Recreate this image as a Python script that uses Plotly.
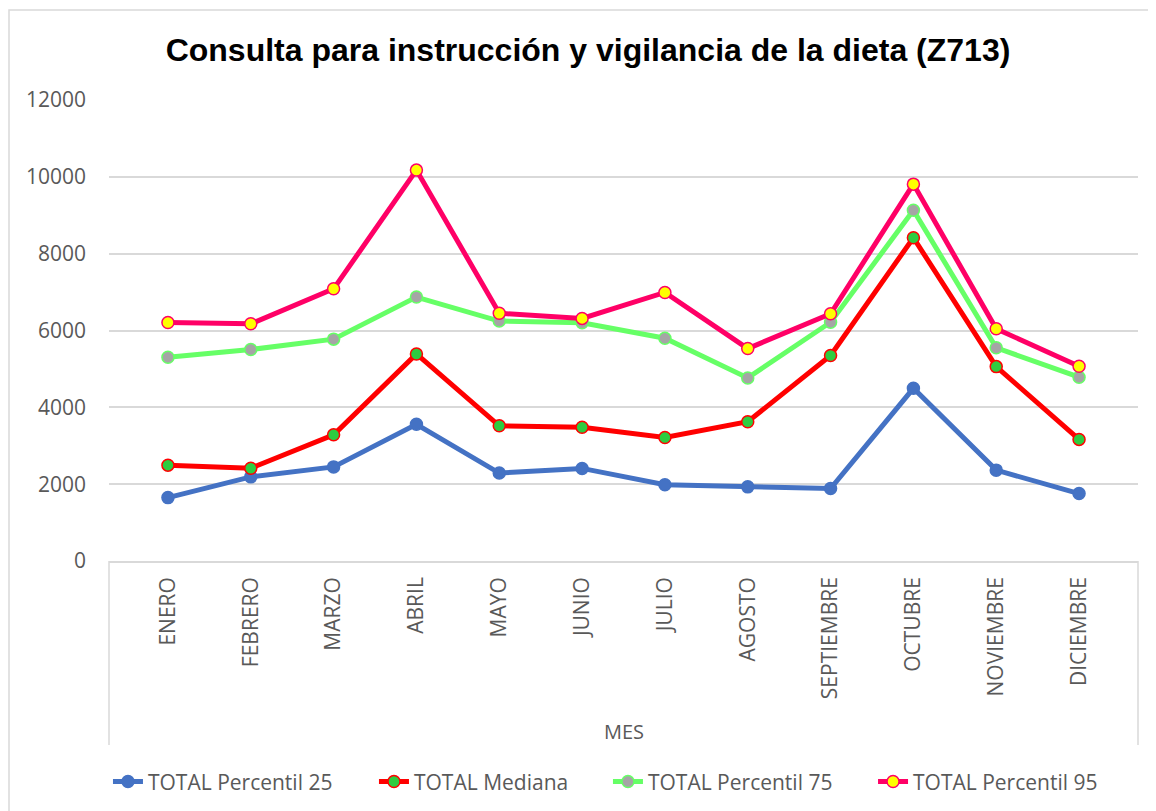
import plotly.graph_objects as go

# datos por mes
meses = ["ENERO", "FEBRERO", "MARZO", "ABRIL", "MAYO", "JUNIO", "JULIO",
         "AGOSTO", "SEPTIEMBRE", "OCTUBRE", "NOVIEMBRE", "DICIEMBRE"]
percentil_25 = [1650, 2190, 2450, 3560, 2290, 2410, 1985, 1930, 1885, 4495, 2365, 1755]
mediana = [2495, 2415, 3285, 5390, 3520, 3480, 3215, 3625, 5350, 8415, 5060, 3165]
percentil_75 = [5305, 5505, 5775, 6870, 6245, 6200, 5800, 4765, 6215, 9130, 5550, 4785]
percentil_95 = [6210, 6175, 7085, 10175, 6450, 6315, 6990, 5530, 6435, 9810, 6045, 5070]

series = [
    ("TOTAL Percentil 25", percentil_25, "#4472C4", "#4472C4", "#4472C4"),
    ("TOTAL Mediana", mediana, "#FF0000", "#2ECC40", "#FF0000"),
    ("TOTAL Percentil 75", percentil_75, "#66FF66", "#A5A5A5", "#66FF66"),
    ("TOTAL Percentil 95", percentil_95, "#FF0066", "#FFFF00", "#FF0066"),
]
# una leyenda por serie para colocarlas como en el original
leyendas = ["legend", "legend2", "legend3", "legend4"]
pos_leyenda = [-0.001, 0.2575, 0.4849, 0.7425]

gris = "#595959"
fig = go.Figure()
for (nombre, valores, color_linea, relleno, borde), ley in zip(series, leyendas):
    fig.add_trace(go.Scatter(
        x=meses, y=valores, name=nombre, mode="lines+markers", legend=ley,
        line=dict(color=color_linea, width=5),
        marker=dict(size=12, color=relleno, line=dict(color=borde, width=1.5)),
    ))

# la página añade 8px de margen, se compensa aquí
fig.update_layout(
    width=1156, height=811,
    margin=dict(l=101, r=26, t=92, b=258),
    paper_bgcolor="white", plot_bgcolor="white",
    showlegend=True,
    title=dict(
        text="<b>Consulta para instrucción y vigilancia de la dieta (Z713)</b>",
        x=580 / 1156, xref="container", xanchor="center",
        y=1 - 42 / 811, yref="container", yanchor="middle",
        font=dict(family="Liberation Sans, Arial", size=32, color="black"),
    ),
    font=dict(family="Open Sans", color=gris),
)
for ley, xp in zip(leyendas, pos_leyenda):
    fig.update_layout({ley: dict(
        orientation="h", x=xp, xanchor="left", y=-0.479, yanchor="middle",
        font=dict(family="Open Sans", size=21, color=gris),
        bgcolor="rgba(0,0,0,0)",
    )})

fig.update_xaxes(
    type="category", tickangle=-90, ticks="", automargin=False,
    tickfont=dict(family="Open Sans", size=21, color=gris),
    showline=True, linecolor="#D9D9D9", linewidth=1.5,
    showgrid=False, ticklabelstandoff=6,
)
fig.update_yaxes(
    range=[0, 12000], dtick=2000, ticks="", tickformat="d", automargin=False,
    tickfont=dict(family="Open Sans", size=21, color=gris),
    showgrid=True, gridcolor="#D9D9D9", gridwidth=1.5,
    zeroline=False, showline=False, ticklabelstandoff=22,
)

# título del eje como anotación
fig.add_annotation(
    text="MES", xref="paper", yref="paper", x=0.5, y=(561 - 731) / 461,
    showarrow=False, xanchor="center", yanchor="middle",
    font=dict(family="Open Sans", size=20, color=gris),
)

# líneas de la caja de categorías y marco del gráfico
for xp in (0, 1):
    fig.add_shape(type="line", xref="paper", yref="paper",
                  x0=xp, x1=xp, y0=0, y1=(561 - 745) / 461,
                  line=dict(color="#D9D9D9", width=1.5))
fig.add_shape(type="rect", xref="paper", yref="paper",
              x0=(9 - 109) / 1029, x1=(1170 - 109) / 1029,
              y0=(561 - 830) / 461, y1=(561 - 10) / 461,
              line=dict(color="#D9D9D9", width=1.5))

fig.write_html("out.html")
